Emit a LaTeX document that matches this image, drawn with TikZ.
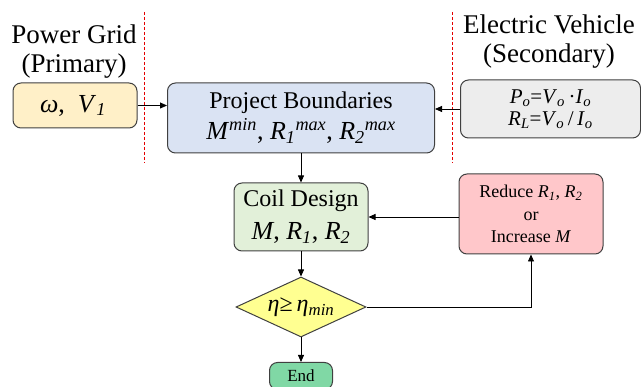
\documentclass[tikz,border=0pt]{standalone}
\usepackage{fontspec}
\setmainfont{Liberation Serif}
\usetikzlibrary{shapes.geometric,arrows.meta}

\begin{document}
\begin{tikzpicture}[x=1pt,y=-1pt,
    box/.style={draw=black!75,line width=1pt,rounded corners=8pt,inner sep=0pt,align=center},
    arr/.style={-{Triangle[length=7pt,width=6pt]},line width=0.8pt},
    bound/.style={red!90!black,line width=0.9pt,dash pattern=on 3pt off 2pt}]
  \definecolor{gridfill}{RGB}{255,240,200}
  \definecolor{boundfill}{RGB}{218,227,243}
  \definecolor{evfill}{RGB}{237,237,237}
  \definecolor{coilfill}{RGB}{226,240,217}
  \definecolor{fixfill}{RGB}{255,199,202}
  \definecolor{testfill}{RGB}{255,255,145}
  \definecolor{endfill}{RGB}{128,216,165}

  \useasboundingbox (0,0) rectangle (641,387);

  % ---- side labels and boundaries ----
  \node[font=\fontsize{27}{29}\selectfont,align=center] (gridlbl) at (74,52) {Power Grid\\(Primary)};
  \node[font=\fontsize{27}{29}\selectfont,align=center] (evlbl) at (549,42) {Electric Vehicle\\(Secondary)};
  \draw[bound] (144,12) -- (144,163);
  \draw[bound] (452,12) -- (452,163);

  % ---- inputs ----
  \node[box,fill=gridfill,minimum width=124,minimum height=45,font=\fontsize{26}{28}\selectfont]
    (src) at (75,105.5) {\textit{ω},\ \ \textit{V}\textsubscript{\textit{1}}\hspace{4pt}};
  \node[box,fill=evfill,anchor=west,minimum width=180,minimum height=58,font=\fontsize{21}{22}\selectfont]
    (ev) at (460,109) {\textit{P}\textsubscript{\textit{o}}=\textit{V}\textsubscript{\textit{o}}\,·\textit{I}\textsubscript{\textit{o}}\\
      \textit{R}\textsubscript{\textit{L}}=\textit{V}\textsubscript{\textit{o}}\,/\,\textit{I}\textsubscript{\textit{o}}};

  % ---- main column ----
  \node[box,fill=boundfill,minimum width=267,minimum height=70,font=\fontsize{24}{31}\selectfont]
    (proj) at (301,118) {Project Boundaries\\
      {\fontsize{26}{31}\selectfont\textit{M}\textsuperscript{\textit{min}}, \textit{R}\textsubscript{\textit{1}}\textsuperscript{\textit{max}}, \textit{R}\textsubscript{\textit{2}}\textsuperscript{\textit{max}}}};
  \node[box,fill=coilfill,minimum width=134,minimum height=68,font=\fontsize{24}{33}\selectfont]
    (coil) at (301,217) {Coil Design\\
      {\fontsize{26}{33}\selectfont\textit{M}, \textit{R}\textsubscript{\textit{1}}, \textit{R}\textsubscript{\textit{2}}}};
  \node[diamond,draw=black!75,line width=1pt,fill=testfill,inner sep=0pt,aspect=2.2,
        minimum width=130,minimum height=60,font=\fontsize{24}{26}\selectfont]
    (test) at (301,307) {\textit{η}≥\,\textit{η}\textsubscript{\textit{min}}};
  \node[box,fill=endfill,minimum width=63,minimum height=27,font=\fontsize{17}{19}\selectfont]
    (done) at (301,376) {End};

  % ---- correction loop ----
  \node[box,fill=fixfill,minimum width=144,minimum height=80,font=\fontsize{18}{22.5}\selectfont]
    (fix) at (531,214) {Reduce \textit{R}\textsubscript{\textit{1}}, \textit{R}\textsubscript{\textit{2}}\\or\\Increase \textit{M}};

  % ---- connectors ----
  \draw[arr] (src.east) -- (src.east -| proj.west);
  \draw[arr] (ev.west) -- (ev.west -| proj.east);
  \draw[arr] (proj.south) -- (coil.north);
  \draw[arr] (coil.south) -- (test.north);
  \draw[arr] (test.south) -- (done.north);
  \draw[arr] (test.east) -| (fix.south);
  \draw[arr] (coil.east -| fix.west) -- (coil.east);
\end{tikzpicture}
\end{document}
